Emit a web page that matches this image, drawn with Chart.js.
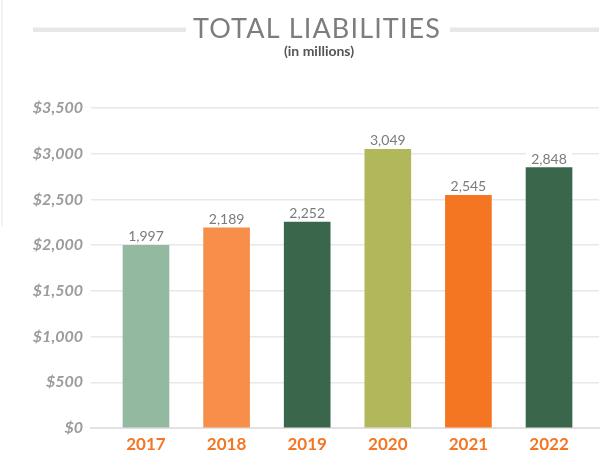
<!DOCTYPE html>
<html>
<head>
<meta charset="utf-8">
<title>Total Liabilities</title>
<script src="https://cdn.jsdelivr.net/npm/chart.js@4.4.0/dist/chart.umd.min.js"></script>
<style>
  body { margin: 0; background: #fff; }
  #wrap { width: 611px; height: 451px; }
</style>
</head>
<body>
<div id="wrap"><canvas id="liabChart" width="611" height="451"></canvas></div>
<script>
const years = ['2017', '2018', '2019', '2020', '2021', '2022']
const liabilities = [1997, 2189, 2252, 3049, 2545, 2848]
const barColors = ['#93b9a0', '#f78e4a', '#3a674b', '#b1b85c', '#f47623', '#3a674b']
const yTicks = [0, 500, 1000, 1500, 2000, 2500, 3000, 3500]

const titleText = 'TOTAL LIABILITIES'
const subtitleText = '(in millions)'

Chart.defaults.font.family = 'Lato'

// heading with the grey rules either side
const titleDeco = {
  id: 'titleDeco',
  afterDraw(chart) {
    const ctx = chart.ctx
    ctx.save()
    ctx.fillStyle = '#f2f2f2'
    ctx.fillRect(1, 0, 2, 226)

    ctx.fillStyle = '#e6e7e7'
    ctx.fillRect(33, 27.5, 153, 4.5)
    ctx.fillRect(450, 27.5, 149, 4.5)

    ctx.font = '27px Lato'
    ctx.letterSpacing = '0px'
    const raw = ctx.measureText(titleText).width
    ctx.letterSpacing = ((247 - raw) / (titleText.length - 1)) + 'px'
    ctx.fillStyle = '#7d7d7d'
    ctx.textAlign = 'left'
    ctx.textBaseline = 'alphabetic'
    ctx.fillText(titleText, 193, 38)

    ctx.letterSpacing = '0px'
    ctx.font = 'bold 14px Lato'
    ctx.fillStyle = '#555555'
    ctx.textAlign = 'center'
    ctx.fillText(subtitleText, 319, 56)
    ctx.restore()
  }
}

// numbers above the bars, on a white patch so gridlines break behind them
const valueLabels = {
  id: 'valueLabels',
  afterDatasetsDraw(chart) {
    const ctx = chart.ctx
    const meta = chart.getDatasetMeta(0)
    ctx.save()
    meta.data.forEach((bar, i) => {
      ctx.fillStyle = '#ffffff'
      ctx.fillRect(bar.x - bar.width / 2, bar.y - 19, bar.width, 17)
      ctx.fillStyle = '#7b7b7b'
      ctx.font = '14px Lato'
      ctx.textAlign = 'center'
      ctx.textBaseline = 'alphabetic'
      ctx.fillText(liabilities[i].toLocaleString('en-US'), bar.x, bar.y - 4)
    })
    ctx.restore()
  }
}

const config = {
  type: 'bar',
  data: {
    datasets: [{
      data: liabilities.map((v, i) => ({ x: i, y: v })),
      backgroundColor: barColors,
      barThickness: 46
    }]
  },
  options: {
    responsive: false,
    animation: false,
    layout: { padding: { top: 108, right: 12, bottom: 0, left: 0 } },
    plugins: {
      legend: { display: false },
      tooltip: { enabled: false }
    },
    scales: {
      x: {
        type: 'linear',
        offset: false,
        min: -0.682,
        max: 5.62,
        grid: { display: false },
        border: { color: '#e2e2e2', width: 2 },
        afterBuildTicks: axis => { axis.ticks = years.map((y, i) => ({ value: i })) },
        afterFit: axis => { axis.height = 23 },
        ticks: {
          callback: v => years[v],
          color: '#f47623',
          font: { size: 17, weight: 'bold' },
          padding: -2,
          maxRotation: 0,
          autoSkip: false
        }
      },
      y: {
        min: 0,
        max: 3500,
        afterBuildTicks: axis => { axis.ticks = yTicks.map(v => ({ value: v })) },
        afterFit: axis => { axis.width = 91 },
        grid: { color: '#e8e8e8', lineWidth: 1.5, drawTicks: false },
        border: { display: false },
        ticks: {
          padding: 8,
          color: '#9b9b9b',
          font: { size: 16, style: 'italic', weight: 'bold' },
          callback: v => '$' + v.toLocaleString('en-US')
        }
      }
    }
  },
  plugins: [titleDeco, valueLabels]
}

const liabChart = new Chart(document.getElementById('liabChart'), config)
</script>
</body>
</html>
